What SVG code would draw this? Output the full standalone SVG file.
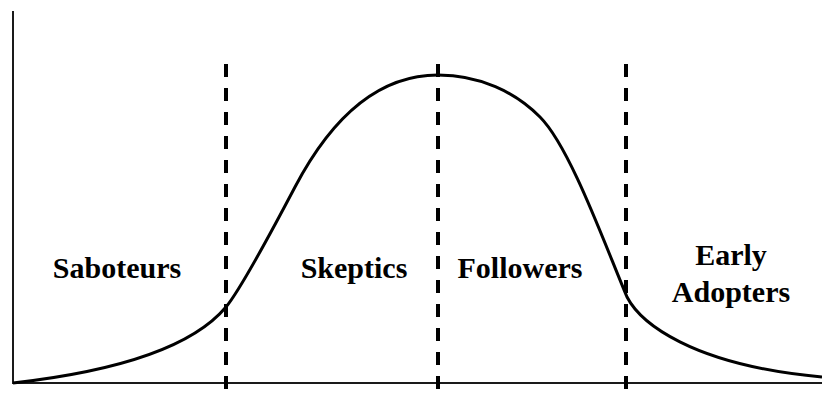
<svg xmlns="http://www.w3.org/2000/svg" width="822" height="394" viewBox="0 0 822 394">
<style>
.axis{stroke:#1a1a1a;stroke-width:2;fill:none}
.div{stroke:#000;stroke-width:4;stroke-dasharray:13 11;fill:none}
.curve{stroke:#000;stroke-width:3;fill:none;stroke-linejoin:round}
.lbl{font-family:"Liberation Serif","Times New Roman",serif;font-weight:bold;font-size:30px;fill:#000;text-anchor:middle}
</style>
<rect width="822" height="394" fill="#fff"/>
<g id="connectors">
<path class="axis" d="M13,11 V383 H822"/>
<path class="curve" d="M13,383 C110,372 190,350 226,307 C240,290 275,225 295,187 C325,130 370,75 438,75 C480,75 515,92 540,117 C570,147 605,245 627,297 C640,322 690,365 822,377"/>
<line class="div" x1="226" y1="64" x2="226" y2="394"/>
<line class="div" x1="438" y1="64" x2="438" y2="394"/>
<line class="div" x1="626" y1="64" x2="626" y2="394"/>
</g>
<g id="saboteurs"><text class="lbl" x="117" y="278">Saboteurs</text></g>
<g id="skeptics"><text class="lbl" x="354" y="278">Skeptics</text></g>
<g id="followers"><text class="lbl" x="520" y="278">Followers</text></g>
<g id="early-adopters"><text class="lbl" x="731" y="265">Early</text><text class="lbl" x="731" y="302">Adopters</text></g>
</svg>
